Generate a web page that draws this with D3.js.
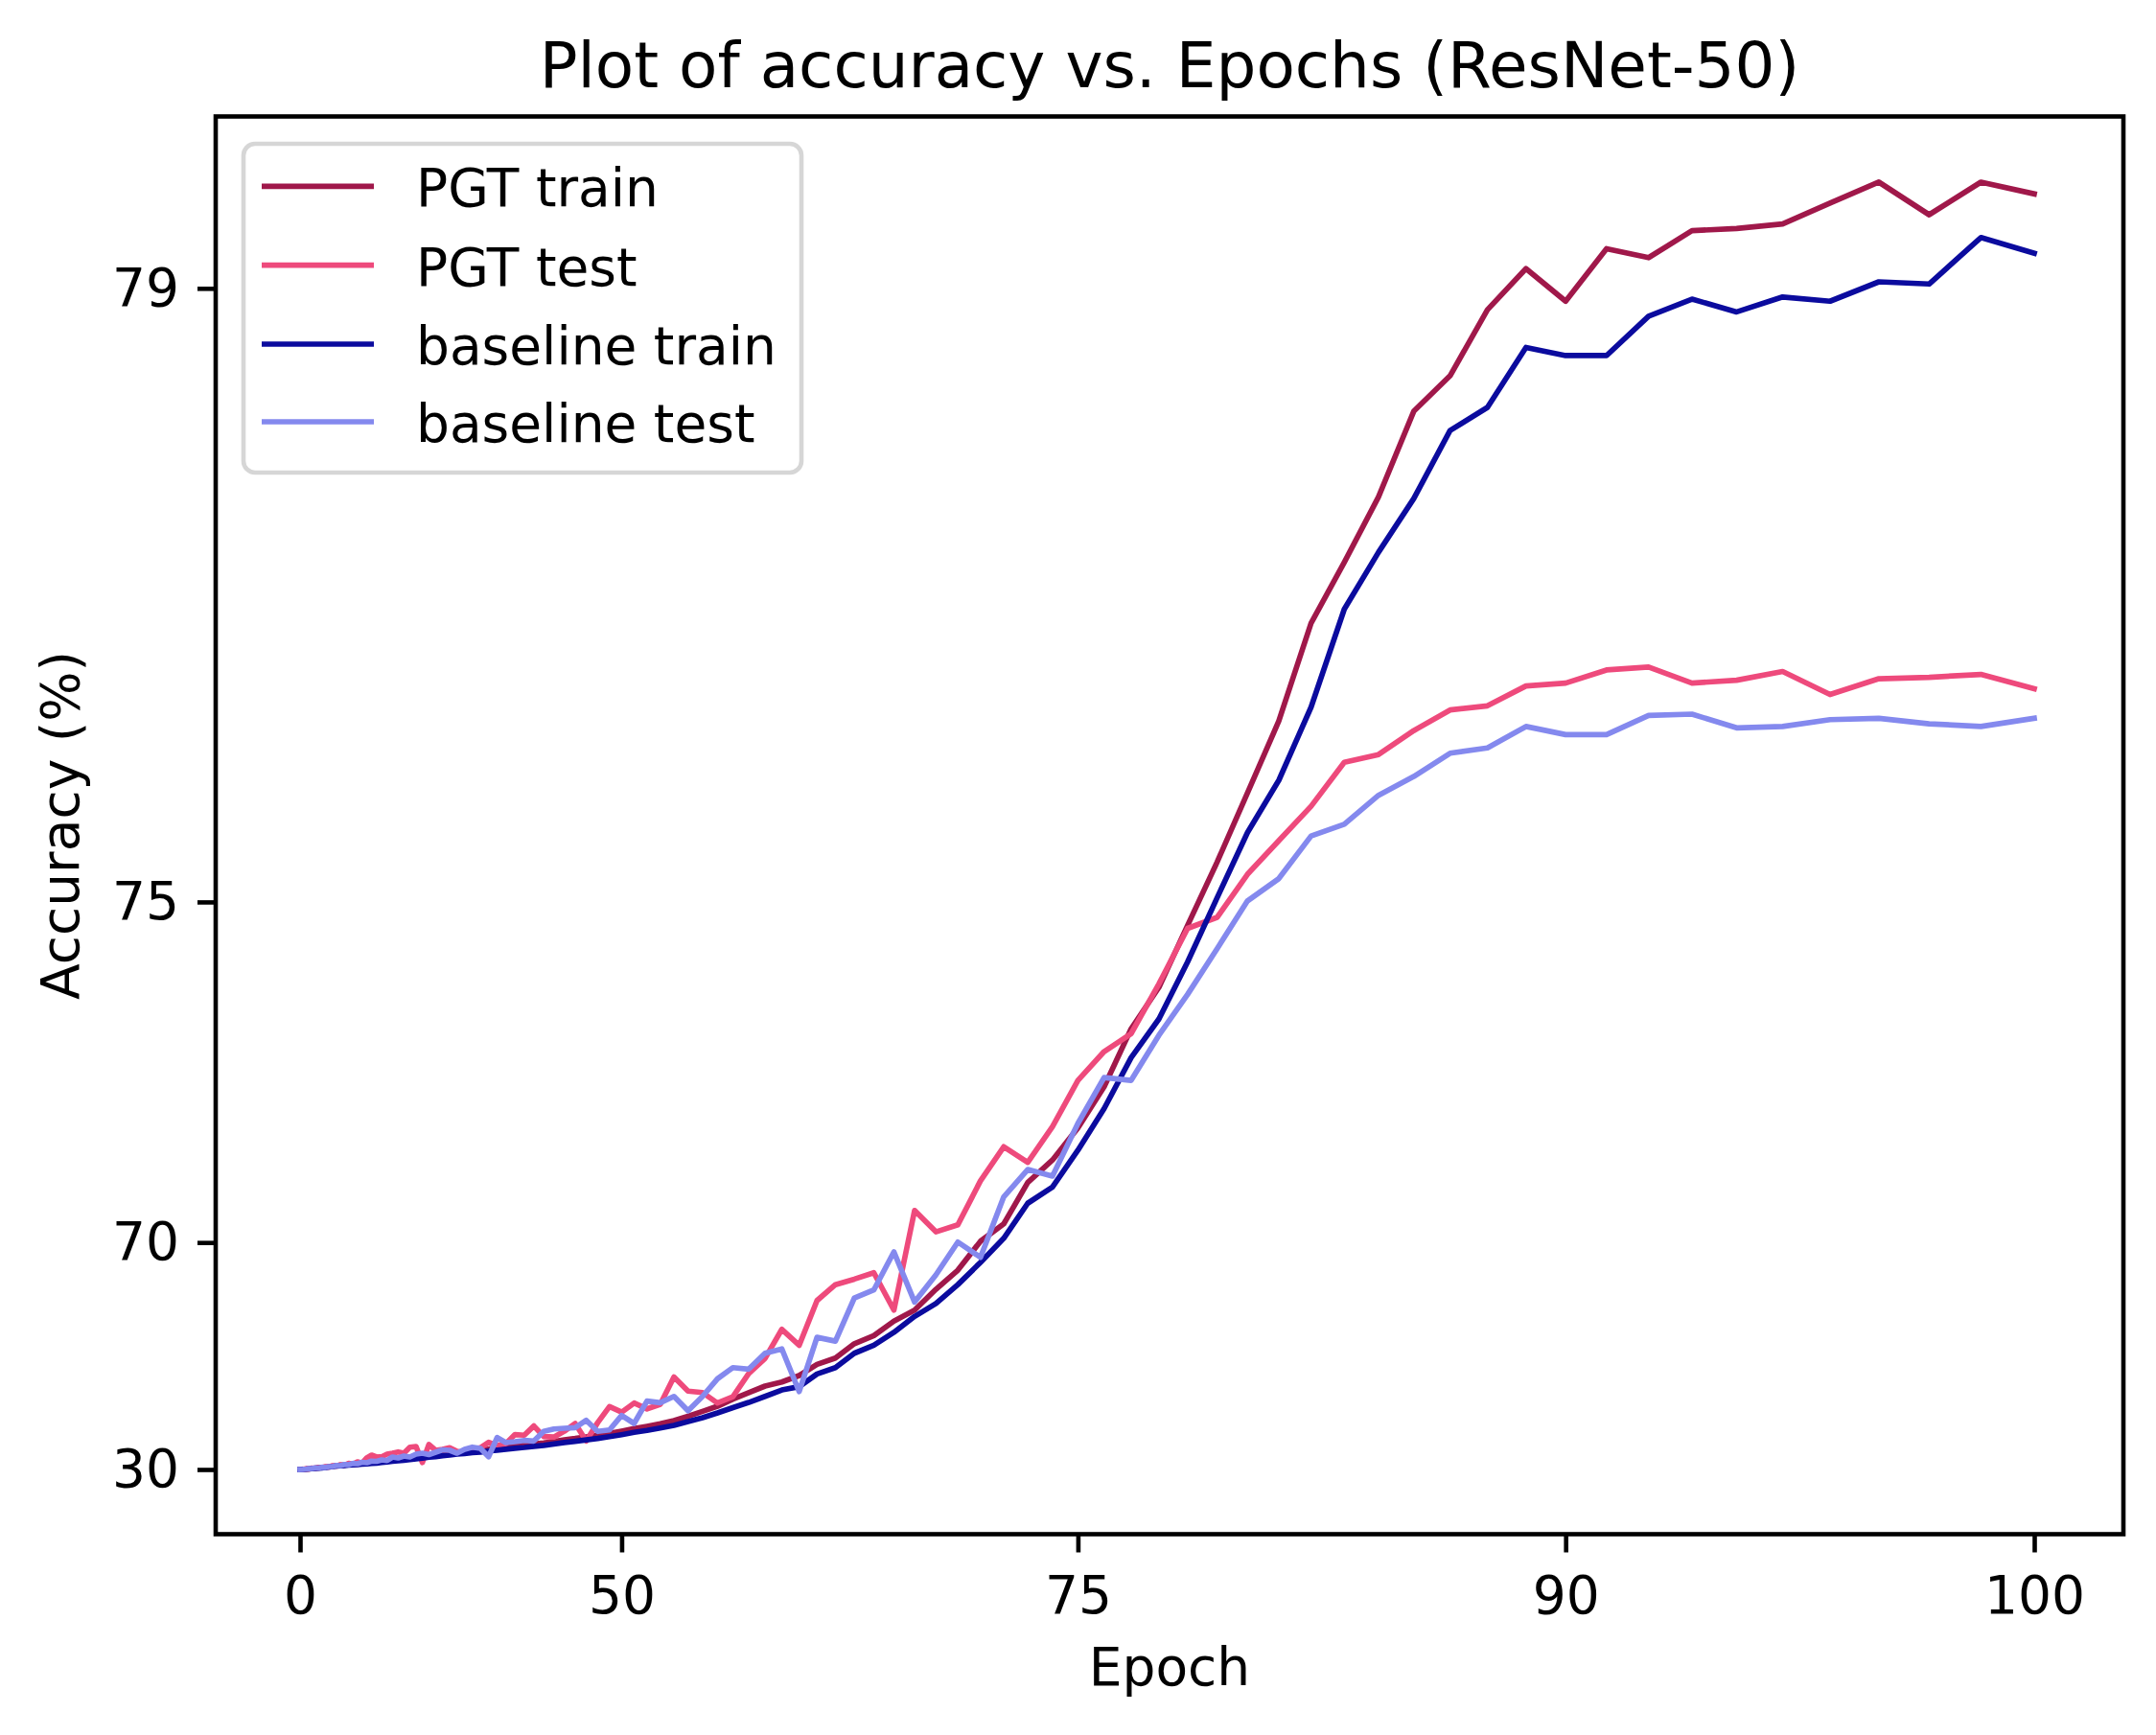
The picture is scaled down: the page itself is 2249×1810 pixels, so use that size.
<!DOCTYPE html>
<html>
<head>
<meta charset="utf-8">
<script src="https://cdn.jsdelivr.net/npm/d3@7"></script>
<style>
  body { margin: 0; background: #fff; }
  text { font-family: "DejaVu Sans", sans-serif; fill: #000; }
</style>
</head>
<body>
<svg id="svg"></svg>
<script>
const svgWidth = 2249;
const svgHeight = 1810;

// data, one value per epoch 0..100
const epochs = d3.range(0, 101);

const pgtTrain = [
  30.00, 33.97, 36.24, 39.08, 40.94, 42.32, 43.43, 44.35, 45.13, 46.13,
  46.97, 47.93, 48.34, 48.74, 49.10, 49.44, 49.77, 50.22, 50.63, 51.02,
  51.38, 51.82, 52.24, 52.63, 52.99, 53.31, 53.63, 54.08, 54.35, 54.74,
  54.99, 55.34, 55.56, 55.87, 56.07, 56.36, 56.55, 56.89, 57.14, 57.38,
  57.61, 57.83, 58.11, 58.31, 58.62, 58.93, 59.15, 59.43, 59.69, 59.98,
  60.31, 60.66, 60.95, 61.26, 61.63, 62.10, 62.57, 63.03, 63.61, 64.10,
  64.54, 64.80, 65.19, 65.80, 66.12, 66.78, 67.12, 67.68, 68.07, 68.74,
  69.29, 70.03, 70.43, 71.28, 71.69, 72.23, 72.85, 73.62, 74.11, 74.77,
  75.37, 75.96, 76.51, 77.18, 77.56, 77.94, 78.40, 78.58, 78.90, 79.09,
  78.94, 79.18, 79.14, 79.26, 79.27, 79.29, 79.38, 79.47, 79.33, 79.47, 79.42
];

const pgtTest = [
  30.00, 35.86, 39.91, 37.85, 42.90, 41.82, 44.83, 43.81, 46.42, 45.48,
  47.93, 47.23, 49.10, 48.55, 50.49, 49.61, 51.61, 50.49, 53.79, 54.99,
  54.22, 54.34, 55.34, 55.67, 56.06, 55.67, 57.37, 57.53, 51.12, 57.97,
  56.55, 56.81, 57.23, 56.27, 55.76, 56.81, 57.23, 58.43, 57.76, 58.17,
  59.80, 59.70, 61.00, 59.50, 59.40, 60.30, 61.30, 58.70, 61.40, 63.00,
  62.50, 63.30, 62.80, 63.20, 65.10, 64.20, 64.10, 63.30, 63.80, 65.30,
  66.10, 67.37, 66.71, 68.39, 68.88, 69.04, 69.22, 68.07, 70.72, 70.25,
  70.41, 71.31, 71.92, 71.65, 72.25, 72.94, 73.33, 73.56, 74.15, 74.74,
  74.85, 75.26, 75.56, 75.85, 76.20, 76.26, 76.44, 76.59, 76.62, 76.76,
  76.78, 76.87, 76.89, 76.78, 76.80, 76.86, 76.70, 76.81, 76.82, 76.84, 76.74
];

const baselineTrain = [
  30.00, 32.71, 35.23, 37.85, 39.91, 41.39, 42.56, 43.53, 44.35, 45.48,
  46.42, 47.37, 47.79, 48.18, 48.55, 48.89, 49.21, 49.61, 49.98, 50.34,
  50.66, 51.12, 51.54, 51.93, 52.29, 52.64, 52.97, 53.41, 53.69, 54.13,
  54.38, 54.77, 54.99, 55.34, 55.53, 55.82, 56.01, 56.35, 56.60, 56.86,
  57.09, 57.30, 57.58, 57.78, 58.09, 58.39, 58.62, 58.89, 59.15, 59.46,
  59.78, 60.13, 60.41, 60.73, 61.07, 61.52, 61.94, 62.42, 62.91, 63.35,
  63.82, 64.28, 64.50, 65.28, 65.63, 66.35, 66.71, 67.25, 67.85, 68.29,
  68.88, 69.50, 70.10, 70.87, 71.19, 71.86, 72.53, 73.25, 73.74, 74.39,
  75.04, 75.63, 76.06, 76.61, 77.27, 77.62, 77.93, 78.30, 78.42, 78.72,
  78.68, 78.68, 78.87, 78.95, 78.89, 78.96, 78.94, 79.03, 79.02, 79.23, 79.16
];

const baselineTest = [
  30.00, 34.51, 37.85, 40.45, 40.94, 43.23, 42.90, 45.05, 44.83, 46.42,
  46.76, 48.18, 47.93, 49.31, 49.10, 50.41, 50.07, 51.27, 50.89, 52.06,
  51.93, 52.80, 52.41, 54.22, 53.79, 54.62, 54.22, 55.34, 55.67, 55.17,
  55.98, 56.68, 56.55, 55.67, 56.81, 57.37, 57.06, 54.34, 59.31, 58.37,
  58.56, 58.80, 58.69, 60.27, 60.61, 60.70, 60.79, 61.66, 60.27, 60.48,
  62.17, 61.30, 63.46, 63.33, 63.82, 62.63, 63.82, 65.00, 65.63, 65.55,
  66.35, 66.55, 64.17, 67.05, 66.89, 68.47, 68.72, 69.77, 68.34, 69.16,
  70.01, 69.63, 71.00, 71.52, 71.40, 72.30, 72.98, 72.94, 73.54, 74.03,
  74.53, 75.01, 75.22, 75.60, 75.70, 75.94, 76.09, 76.27, 76.31, 76.47,
  76.41, 76.41, 76.55, 76.56, 76.46, 76.47, 76.52, 76.53, 76.49, 76.47, 76.53
];

const seriesNames = ["PGT train", "PGT test", "baseline train", "baseline test"];
const seriesColors = ["#a0184a", "#ee4a7c", "#0b0b9e", "#8489ee"];

const xTicks = [0, 50, 75, 90, 100];
const yTicks = [30, 70, 75, 79];

let svg = d3.select("#svg");
let xScale, yScale, xPos, yPos;

// plot box in page pixels
const box = { left: 225, right: 2215, top: 121.5, bottom: 1600.5 };

function initializeSVG() {
  svg.attr("width", svgWidth).attr("height", svgHeight);
  svg.selectAll("*").remove();
  svg.append("rect").attr("width", svgWidth).attr("height", svgHeight).attr("fill", "#fff");

  // both axes are stretched exponentially (the tick labels are not evenly spaced)
  const kx = 0.0296, ky = 0.1832;
  const fx = (e) => Math.exp(kx * e);
  const fy = (v) => Math.exp(ky * v);
  xScale = d3.scaleLinear().domain([fx(0), fx(100)]).range([313, 2122]);
  yScale = d3.scaleLinear().domain([fy(30), fy(79)]).range([1533, 300.8]);
  xPos = (e) => xScale(fx(e));
  yPos = (v) => yScale(fy(v));
}

function drawAxes() {
  // tick scales that go through the same positions as the data
  const xTickScale = d3.scaleLinear().domain(xTicks).range(xTicks.map(xPos));
  const yTickScale = d3.scaleLinear().domain(yTicks).range(yTicks.map(yPos));

  const xAxis = svg.append("g")
    .attr("transform", `translate(0,${box.bottom})`)
    .call(d3.axisBottom(xTickScale).tickValues(xTicks).tickFormat(d3.format("d"))
      .tickSize(19).tickSizeOuter(0).tickPadding(24));
  const yAxis = svg.append("g")
    .attr("transform", `translate(${box.left},0)`)
    .call(d3.axisLeft(yTickScale).tickValues(yTicks).tickFormat(d3.format("d"))
      .tickSize(19).tickSizeOuter(0).tickPadding(19));

  [xAxis, yAxis].forEach((g) => {
    g.select(".domain").remove();
    g.selectAll(".tick line").attr("stroke", "#000").attr("stroke-width", 4.6);
    g.selectAll(".tick text")
      .attr("font-family", "DejaVu Sans")
      .style("font-size", "55px")
      .attr("fill", "#000");
  });

  // frame
  svg.append("rect")
    .attr("x", box.left).attr("y", box.top)
    .attr("width", box.right - box.left).attr("height", box.bottom - box.top)
    .attr("fill", "none").attr("stroke", "#000").attr("stroke-width", 4.6);

  // axis titles
  svg.append("text")
    .attr("x", (box.left + box.right) / 2).attr("y", 1758)
    .attr("text-anchor", "middle").style("font-size", "55px")
    .text("Epoch");
  svg.append("text")
    .attr("transform", `translate(82,${(box.top + box.bottom) / 2}) rotate(-90)`)
    .attr("text-anchor", "middle").style("font-size", "55px")
    .text("Accuracy (%)");

  // title
  svg.append("text")
    .attr("x", (box.left + box.right) / 2).attr("y", 91)
    .attr("text-anchor", "middle").style("font-size", "66px")
    .text("Plot of accuracy vs. Epochs (ResNet-50)");
}

function drawLines() {
  const allSeries = [pgtTrain, pgtTest, baselineTrain, baselineTest];
  const line = d3.line()
    .x((d, i) => xPos(epochs[i]))
    .y((d) => yPos(d));

  svg.append("g")
    .selectAll("path")
    .data(allSeries)
    .join("path")
    .attr("d", line)
    .attr("fill", "none")
    .attr("stroke", (d, i) => seriesColors[i])
    .attr("stroke-width", 5.7)
    .attr("stroke-linejoin", "round")
    .attr("stroke-linecap", "square");
}

function drawLegend() {
  const legend = svg.append("g");
  legend.append("rect")
    .attr("x", 254).attr("y", 150)
    .attr("width", 836 - 254).attr("height", 493 - 150)
    .attr("rx", 12).attr("ry", 12)
    .attr("fill", "#fff").attr("stroke", "#d6d6d6").attr("stroke-width", 4.6);

  const rowY = [194.3, 276.7, 359, 440];
  const rows = legend.selectAll("g.row")
    .data(seriesNames)
    .join("g")
    .attr("class", "row")
    .attr("transform", (d, i) => `translate(0,${rowY[i]})`);

  rows.append("line")
    .attr("x1", 273).attr("x2", 390)
    .attr("stroke", (d, i) => seriesColors[i])
    .attr("stroke-width", 5.7);
  rows.append("text")
    .attr("x", 434).attr("y", 21)
    .style("font-size", "55px")
    .text((d) => d);
}

function initialize() {
  initializeSVG();
  drawLines();
  drawAxes();
  drawLegend();
}

initialize();
</script>
</body>
</html>
